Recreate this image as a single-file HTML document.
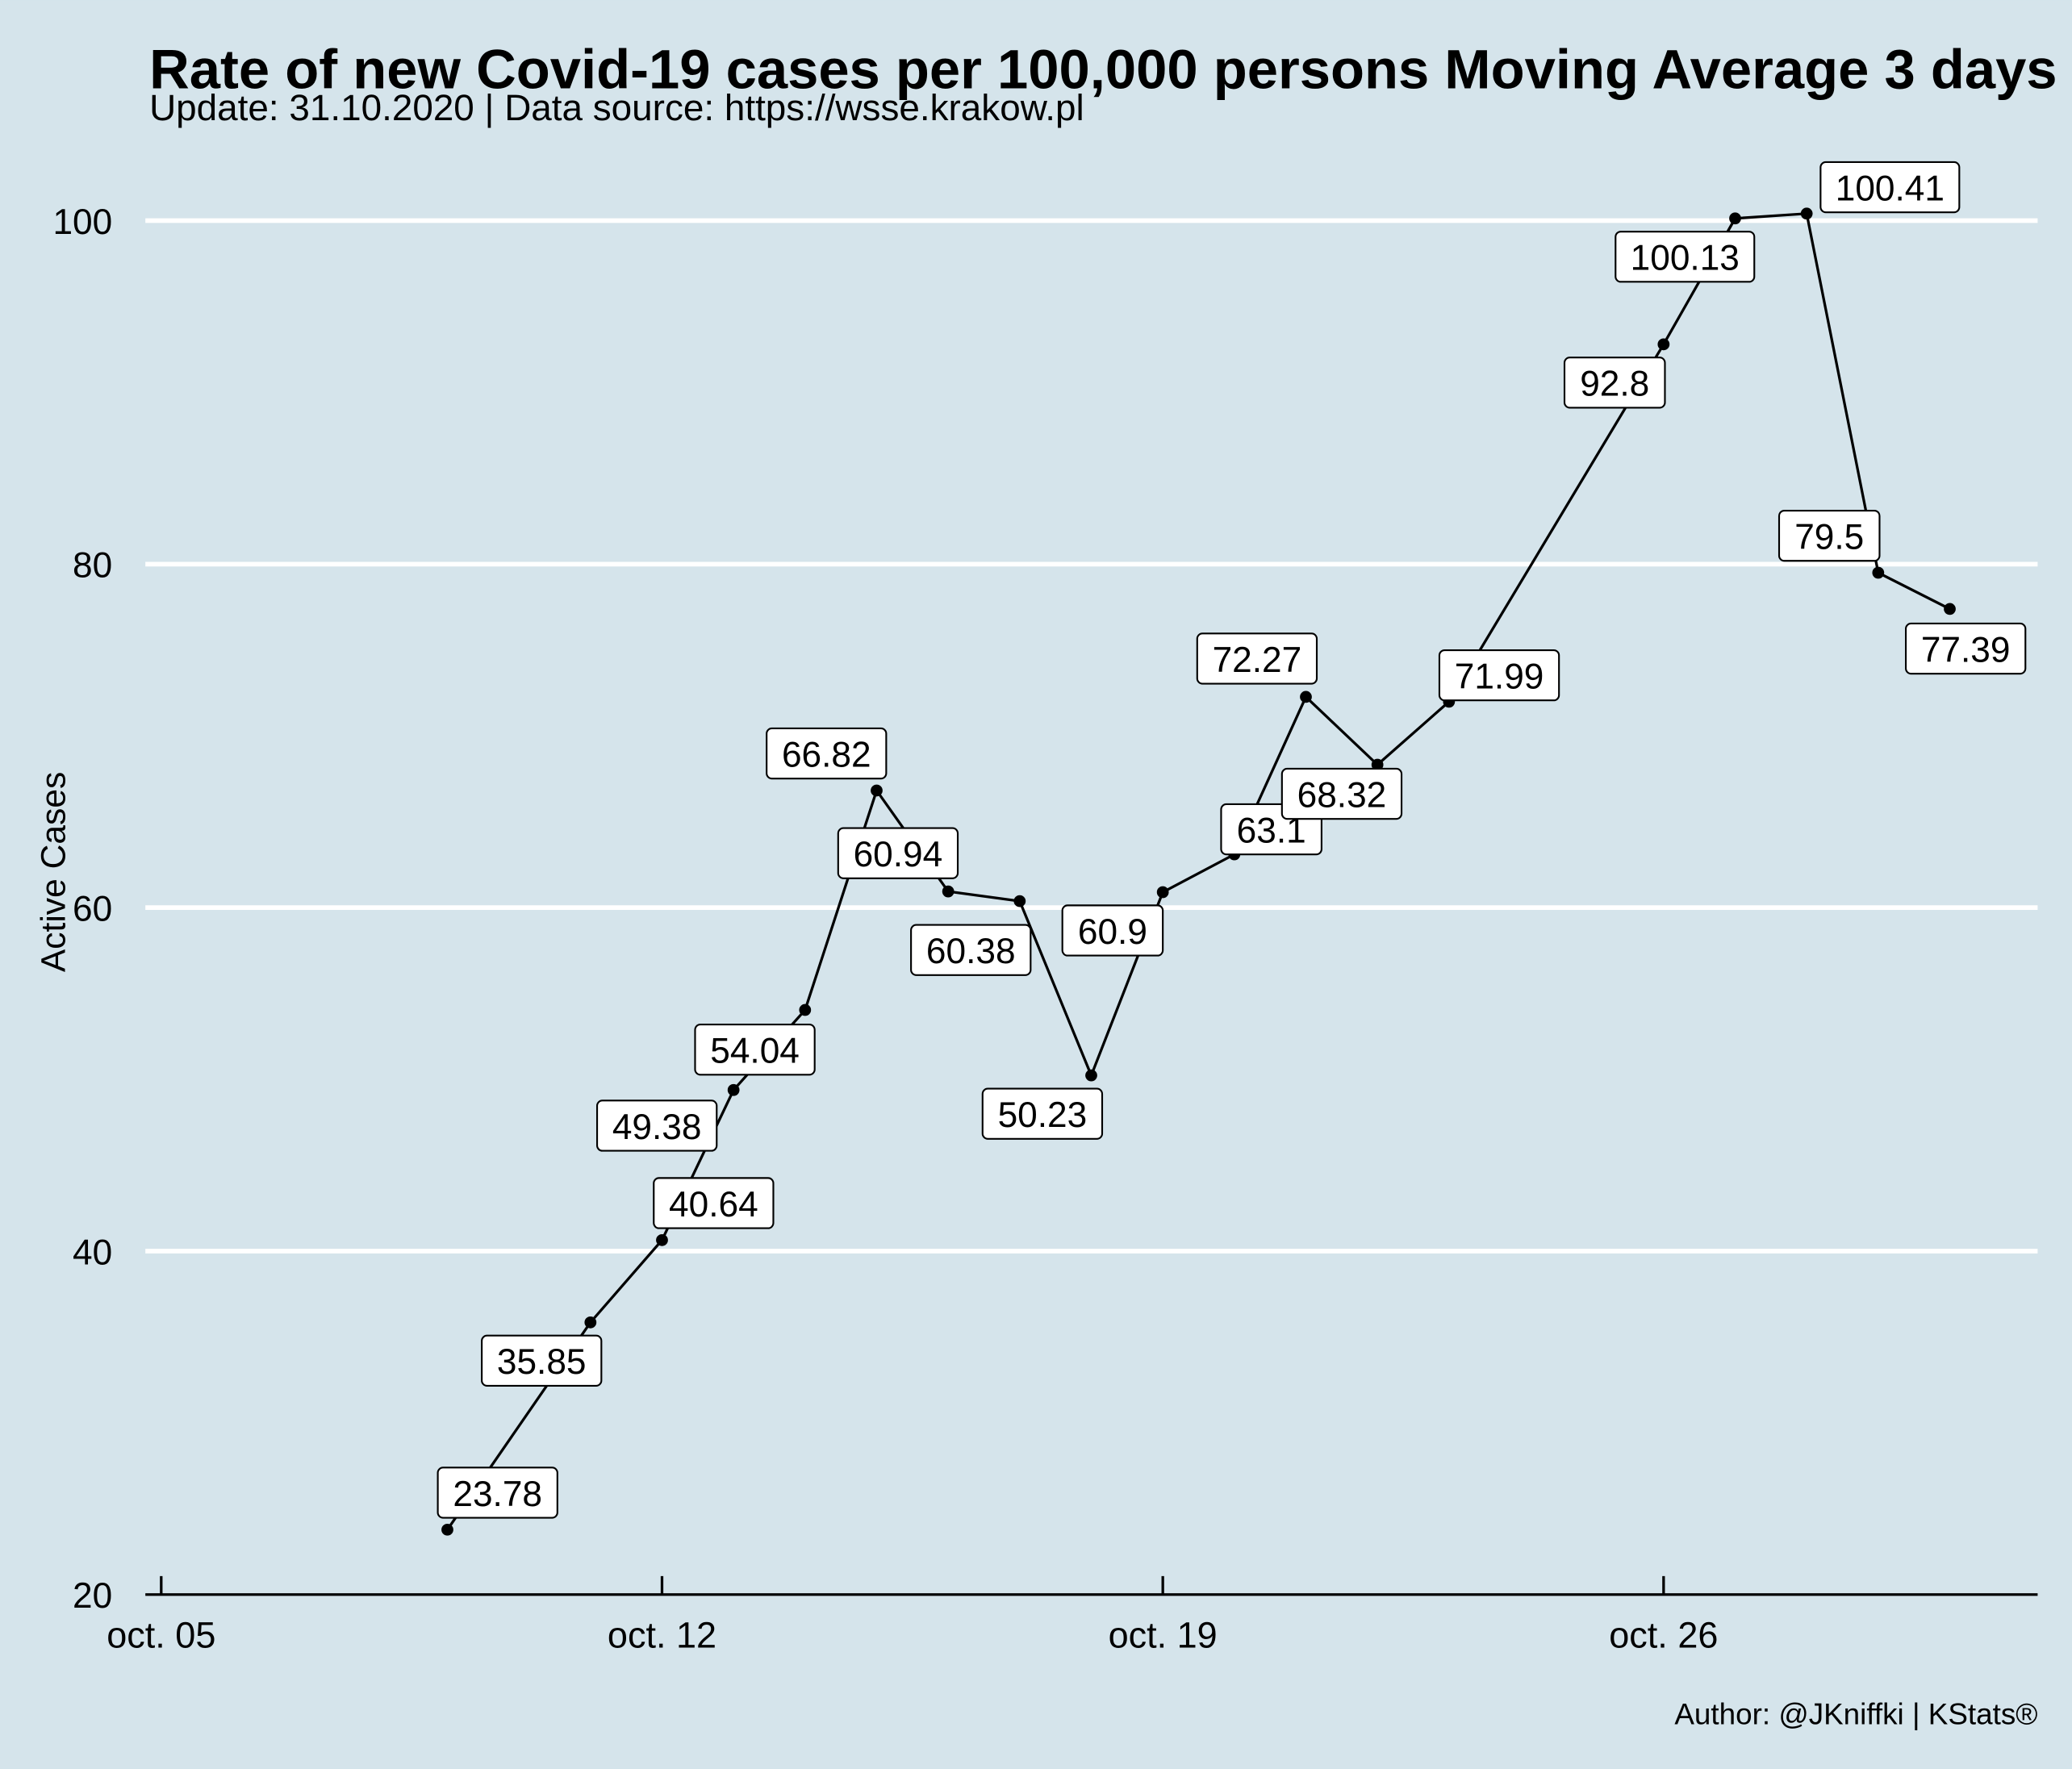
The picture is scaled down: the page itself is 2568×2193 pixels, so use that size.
<!DOCTYPE html>
<html><head><meta charset="utf-8"><style>
html,body{margin:0;padding:0;background:#d5e4eb;}
svg{display:block;font-family:"Liberation Sans",Arial,sans-serif;}
</style></head><body>
<svg id="chart" width="2568" height="2193" viewBox="0 0 1568 1339" xmlns="http://www.w3.org/2000/svg">
<rect width="1568" height="1339" fill="#d5e4eb"/>
<text x="113" y="67" font-size="42" font-weight="bold">Rate of new Covid-19 cases per 100,000 persons Moving Average 3 days in Kraków</text>
<text x="113" y="91" font-size="28">Update: 31.10.2020 | Data source: https://wsse.krakow.pl</text>
<text transform="translate(49,660) rotate(-90)" text-anchor="middle" font-size="26">Active Cases</text>
<text x="1542" y="1305" text-anchor="end" font-size="22.5">Author: @JKniffki | KStats®</text>
<g id="grid"></g><g id="axes"></g><g id="series"></g><g id="labels"></g>
</svg>
<script>
const days = [9,11,12,13,14,15,16,17,18,19,20,21,22,23,26,27,28,29,30];
const values = [23.78,35.85,40.64,49.38,54.04,66.82,60.94,60.38,50.23,60.9,63.1,72.27,68.32,71.99,92.8,100.13,100.41,79.5,77.39];
const yTicks = [20,40,60,80,100];
const xTickDays = [5,12,19,26];
const xTickLabels = ["oct. 05","oct. 12","oct. 19","oct. 26"];
const labelDx = [38,-37,39,-58,-38,-38,-38,-37,-37,-38,28,-37,-27,38,-37,-38,63,-37,12];
const labelDy = [-28,29,-28,27,30,-28,-29,37,29,29,-19,-29,22,-20,29,29,-20,-28,30];

const ns = "http://www.w3.org/2000/svg";
function X(d){return 122 + (d-5)*54.14;}
function Y(v){return 1207 - (v-20)*13;}
function mk(tag, attrs, parent){const e=document.createElementNS(ns,tag);for(const k in attrs)e.setAttribute(k,attrs[k]);parent.appendChild(e);return e;}
const grid=document.getElementById('grid'), axes=document.getElementById('axes'), series=document.getElementById('series'), labels=document.getElementById('labels');

yTicks.forEach((t)=>{
  if(t>20){
    const g=mk('line',{x1:110,x2:1542,y1:Y(t),y2:Y(t),stroke:'#ffffff','stroke-width':3.5},grid);
    
    
  }
  const tx=mk('text',{x:85,y:Y(t)+10,'text-anchor':'end','font-size':27},axes);
  tx.textContent=t;
  
  
});
const ax=mk('line',{x1:110,x2:1542,y1:1207,y2:1207,stroke:'#000','stroke-width':2},axes);


xTickDays.forEach((d,i)=>{
  const tk=mk('line',{x1:X(d),x2:X(d),y1:1193,y2:1207,stroke:'#000','stroke-width':2},axes);
  
  
  const tl=mk('text',{x:X(d),y:1247,'text-anchor':'middle','font-size':27.5},axes);
  tl.textContent=xTickLabels[i];
  
  
});
const pts=days.map((d,i)=>X(d)+','+Y(values[i])).join(' ');
const pl=mk('polyline',{points:pts,fill:'none',stroke:'#000','stroke-width':2},series);


days.forEach((d,i)=>{
  const c=mk('circle',{cx:X(d),cy:Y(values[i]),r:4.5,fill:'#000'},series);
  
  
});
days.forEach((d,i)=>{
  const cx=X(d)+labelDx[i], cy=Y(values[i])+labelDy[i];
  const txt=String(values[i]);
  const w=txt.length*14.5+18;
  const g=mk('g',{},labels);
  
  
  mk('rect',{x:cx-w/2,y:cy-19,width:w,height:38,rx:4,fill:'#fff',stroke:'#000','stroke-width':1.3},g);
  const t=mk('text',{x:cx,y:cy+10,'text-anchor':'middle','font-size':27},g);
  t.textContent=txt;
});
</script>
</body></html>
